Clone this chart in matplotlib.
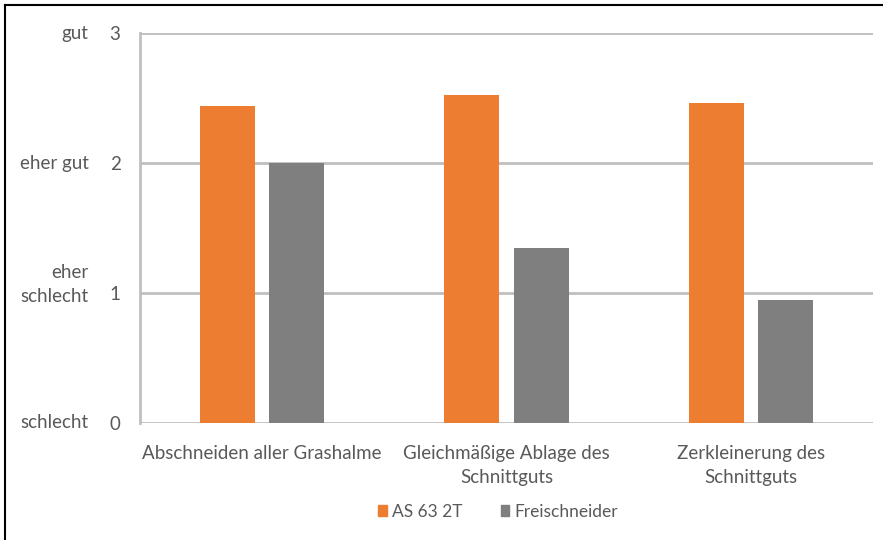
import matplotlib.pyplot as plt
import numpy as np
from matplotlib.lines import Line2D
from matplotlib.patches import Patch

# data
categories = ['Abschneiden aller Grashalme',
              'Gleichmäßige Ablage des\nSchnittguts',
              'Zerkleinerung des\nSchnittguts']
as63_values = [2.44, 2.52, 2.46]
freischneider_values = [2.0, 1.35, 0.95]
series_names = ['AS 63 2T', 'Freischneider']
y_ticks = [0, 1, 2, 3]
y_words = ['schlecht', 'eher\nschlecht', 'eher gut', 'gut']

ORANGE = '#ed7d31'
GRAY = '#7f7f7f'
TEXT = '#595959'
GRID = '#bfbfbf'
FS = 13.5

plt.rcParams['font.family'] = ['Lato', 'DejaVu Sans']

W, H = 883, 540
fig = plt.figure(figsize=(W / 100, H / 100), dpi=100)
ax = fig.add_axes([140 / W, 1 - 423 / H, (873 - 140) / W, (423 - 33) / H])

x = np.arange(len(categories))
width = 0.224
offset = 0.142
ax.bar(x - offset, as63_values, width, color=ORANGE, zorder=3)
ax.bar(x + offset, freischneider_values, width, color=GRAY, zorder=3)

ax.set_xlim(-0.5, len(categories) - 0.5)
ax.set_ylim(0, 3)
ax.set_yticks(y_ticks)
ax.set_yticklabels([str(t) for t in y_ticks], fontsize=FS, color=TEXT)
ax.tick_params(axis='y', length=0, pad=14)
ax.tick_params(axis='x', length=0, pad=16)
ax.set_xticks(x)
ax.set_xticklabels(categories, fontsize=FS, color=TEXT, linespacing=1.5)
ax.yaxis.grid(True, color=GRID, linewidth=2, zorder=0)
ax.set_axisbelow(True)
for side in ['top', 'right', 'bottom']:
    ax.spines[side].set_visible(False)
ax.spines['left'].set_color(GRID)
ax.spines['left'].set_linewidth(2)

# verbal scale labels left of the numbers
for t, word in zip(y_ticks, y_words):
    lift = 6 * word.count('\n')
    ax.annotate(word, xy=(0, t), xycoords=('axes fraction', 'data'),
                xytext=(-37, lift), textcoords='offset points',
                ha='right', va='center', fontsize=FS, color=TEXT,
                linespacing=1.5)

handles = [Patch(color=ORANGE), Patch(color=GRAY)]
fig.legend(handles, series_names, loc='center', bbox_to_anchor=(498 / W, 1 - 512 / H),
           ncol=2, frameon=False, fontsize=12.5, labelcolor=TEXT,
           handlelength=0.5, handleheight=0.6, handletextpad=0.3, columnspacing=2.2)

# frame on left and top edge like the source scan
fig.add_artist(Line2D([5 / W, 5 / W], [0, 1 - 5 / H], transform=fig.transFigure,
                      color='black', linewidth=1.5))
fig.add_artist(Line2D([5 / W, 1], [1 - 5 / H, 1 - 5 / H], transform=fig.transFigure,
                      color='black', linewidth=1.5))

fig.savefig('out.png', dpi=100)
